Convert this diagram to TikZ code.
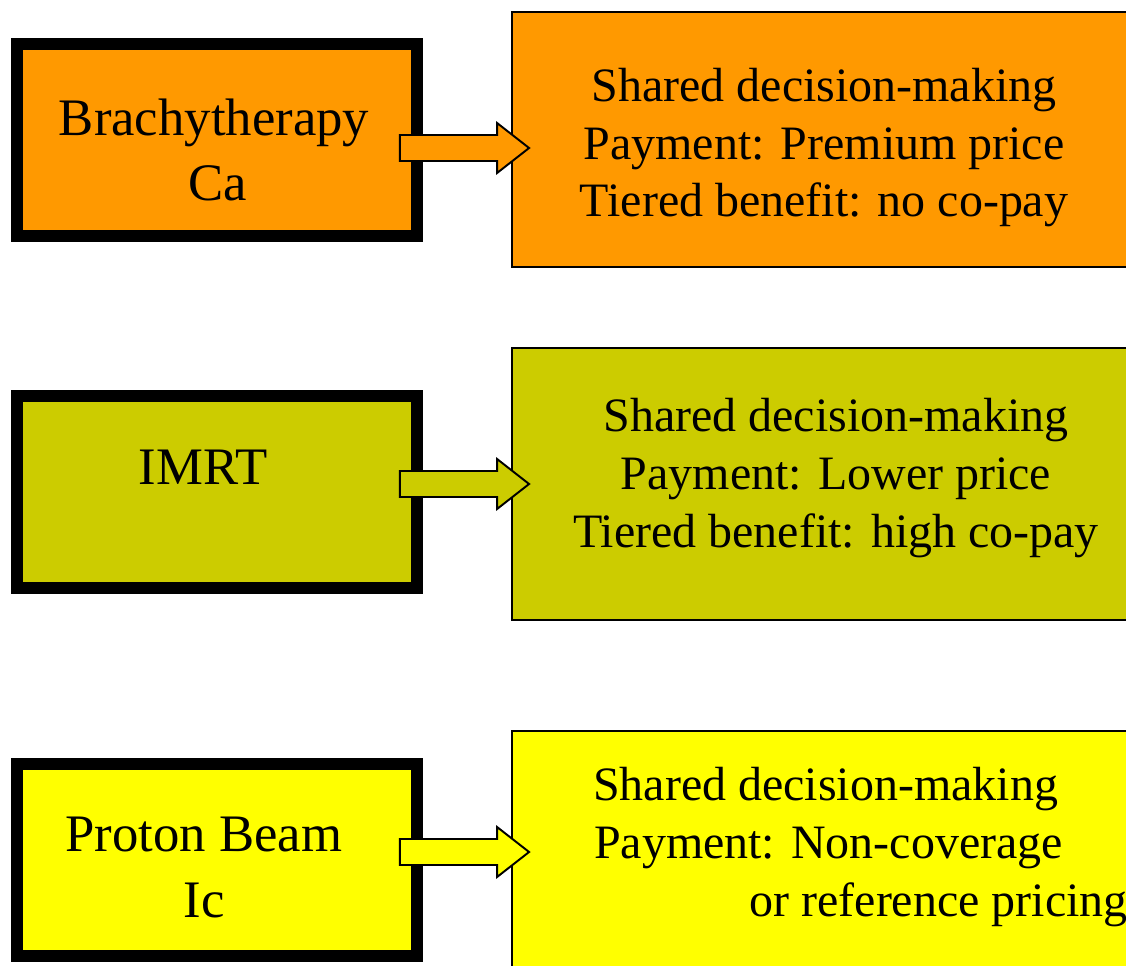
\documentclass[tikz,border=0pt]{standalone}
\usepackage{fontspec}
\setmainfont{Liberation Serif}
\usetikzlibrary{calc}

\definecolor{brachyorange}{HTML}{FF9900}
\definecolor{imrtolive}{HTML}{CCCC00}
\definecolor{protonyellow}{HTML}{FFFF00}

% block arrow from a start coordinate to its tip
\newcommand{\blockarrow}[3]{%
  \draw[arrowbody, fill=#3] ($(#1)+(0,-13)$) -- ($(#2)+(-32,-13)$) -- ($(#2)+(-32,-25)$) -- (#2)
    -- ($(#2)+(-32,25)$) -- ($(#2)+(-32,13)$) -- ($(#1)+(0,13)$) -- cycle;}

\begin{document}
\begin{tikzpicture}[x=0.02cm, y=-0.02cm,
		tech/.style={rectangle, draw, line width=6.8pt, outer sep=0pt, minimum width=8cm, minimum height=3.84cm},
		policy/.style={rectangle, draw, line width=0.8pt, outer sep=0pt, minimum width=14cm},
		techtext/.style={font=\fontsize{30}{37}\selectfont, align=center, anchor=base},
		policytext/.style={font=\fontsize{27.3}{33}\selectfont, anchor=base},
		arrowbody/.style={draw, line width=1.1pt}
		]
		\useasboundingbox (0,0) rectangle (1126,966);
		\clip (0,0) rectangle (1126,966);
		
		% treatments on the left
		\node[tech, fill=brachyorange] (brachy) at (217,140) {};
		\node[tech, fill=imrtolive] (imrt) at (217,492) {};
		\node[tech, fill=protonyellow] (proton) at (217,860) {};
		
		% payment policies on the right (cut off at the page edge)
		\node[policy, fill=brachyorange, minimum height=5.1cm] (brachypay) at (862,139.5) {};
		\node[policy, fill=imrtolive, minimum height=5.44cm] (imrtpay) at (862,484) {};
		\node[policy, fill=protonyellow, minimum height=5.4cm] (protonpay) at (862,866) {};
		
		% labels (base anchor = last line)
		\node[techtext] (brachylbl) at (214,201) {Brachytherapy\\\hspace*{4pt}Ca};
		\node[techtext] (imrtlbl) at (203,484) {IMRT};
		\node[techtext] (protonlbl) at (204,917) {Proton Beam\\Ic};
		
		\node[policytext, align=center] (brachytxt) at (824,217) {Shared decision-making\\Payment: Premium price\\Tiered benefit: no co-pay};
		\node[policytext, align=center] (imrttxt) at (836,547) {Shared decision-making\\Payment: Lower price\\Tiered benefit: high co-pay};
		\node[policytext, align=left, anchor=base west] (protontxt) at (587,916) {Shared decision-making\\\hspace*{0.5pt}Payment: Non-coverage\\\hspace*{89pt}or reference pricing};
		
		% arrows between the boxes
		\coordinate (s1) at ($(brachy.east)+(-17,8)$);
		\coordinate (s2) at ($(imrt.east)+(-17,-8)$);
		\coordinate (s3) at ($(proton.east)+(-17,-8)$);
		\coordinate (t1) at ($(s1 -| brachypay.west)+(17,0)$);
		\coordinate (t2) at ($(s2 -| imrtpay.west)+(17,0)$);
		\coordinate (t3) at ($(s3 -| protonpay.west)+(17,0)$);
		\blockarrow{s1}{t1}{brachyorange}
		\blockarrow{s2}{t2}{imrtolive}
		\blockarrow{s3}{t3}{protonyellow}
	\end{tikzpicture}
\end{document}
